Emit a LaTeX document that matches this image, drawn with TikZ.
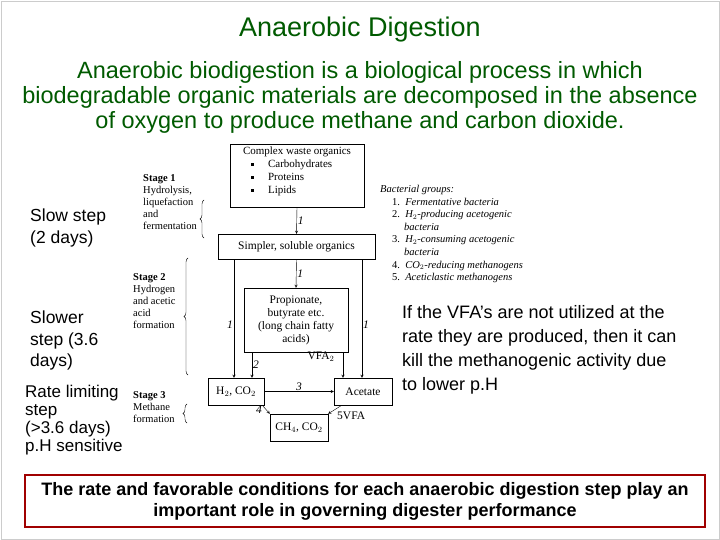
\documentclass[tikz,border=0pt]{standalone}
\usepackage{fontspec}
\setmainfont{Liberation Sans}
\newfontfamily\serf{Liberation Serif}
\usetikzlibrary{decorations.pathreplacing}
\definecolor{tgreen}{RGB}{0,90,0}
\definecolor{dred}{RGB}{160,0,0}
\begin{document}
\begin{tikzpicture}[x=1pt,y=-1pt,
  bx/.style={draw,thin,inner sep=0pt,font=\serf\fontsize{11.5}{13}\selectfont,align=center},
  ar/.style={->,>=stealth,thin},
  lab/.style={font=\serf\itshape\fontsize{11.5}{13}\selectfont,inner sep=1pt},
  side/.style={anchor=north west,align=left,font=\fontsize{17.5}{21.5}\selectfont,inner sep=0pt},
  stg/.style={anchor=north west,align=left,font=\serf\fontsize{10.5}{12}\selectfont,inner sep=0pt},
  br/.style={decorate,decoration={brace,amplitude=4pt},thin}]
\useasboundingbox (0,0) rectangle (720,540);
\draw[gray!40] (1,1) rectangle (719,539);
\node[text=tgreen,font=\fontsize{27}{30}\selectfont] (title) at (360,30) {Anaerobic Digestion};
\node[text=tgreen,font=\fontsize{23.5}{25}\selectfont,align=center] (sub) at (360,97)
 {Anaerobic biodigestion is a biological process in which\\ biodegradable organic materials are decomposed in the absence\\ of oxygen to produce methane and carbon dioxide.};
% boxes
\node[bx,minimum width=134,minimum height=63] (cw) at (297,175.5) {};
\node[anchor=north,font=\serf\fontsize{11}{13}\selectfont,align=left,inner sep=0pt] (cwt) at (297,147)
 {Complex waste organics\\ \hspace*{8pt}\rule[2pt]{3pt}{3pt}\hspace{14pt}Carbohydrates\\ \hspace*{8pt}\rule[2pt]{3pt}{3pt}\hspace{14pt}Proteins\\ \hspace*{8pt}\rule[2pt]{3pt}{3pt}\hspace{14pt}Lipids};
\node[bx,minimum width=157,minimum height=25] (ss) at (296.5,246.5) {Simpler, soluble organics};
\node[bx,minimum width=104,minimum height=64] (pr) at (296,320) {Propionate,\\butyrate etc.\\(long chain fatty\\acids)};
\node[bx,minimum width=56,minimum height=27] (h2) at (236,391.5) {H$_2$, CO$_2$};
\node[bx,minimum width=58,minimum height=27] (ac) at (363,391.5) {Acetate};
\node[bx,minimum width=58,minimum height=27] (ch) at (299,427.5) {CH$_4$, CO$_2$};
% arrows
\draw[ar] (cw.south) -- (ss.north) node[lab,midway,right] {1};
\draw[ar] (ss.south) -- (pr.north) node[lab,midway,right] {1};
\draw[ar] (ss.south west -| 234,0) -- (h2.north -| 234,0) node[lab,pos=0.55,left] {1};
\draw[ar] (ss.south west -| 362,0) -- (ac.north -| 362,0) node[lab,pos=0.55,right] {1};
\draw[ar] (pr.south west -| 252,0) -- (h2.north -| 252,0) node[lab,midway,right] {2};
\draw[ar] (pr.south west -| 343,0) -- (ac.north -| 343,0);
\node[font=\serf\fontsize{11.5}{13}\selectfont,inner sep=0pt] (vfa) at (321,357) {VFA$_2$};
\draw[ar] (h2.east) -- (ac.west) node[lab,midway,above] {3};
\draw[ar] (h2.south east) ++(-2,0) coordinate (a4) -- (ch.north west) node[lab,pos=0.5,left=3pt] {4};
\draw[ar] (ac.south west) ++(8,0) coordinate (a5) -- (ch.north east);
\node[font=\serf\fontsize{11.5}{13}\selectfont,inner sep=0pt,anchor=west] (fv) at (337,416) {5VFA};
% stages
\node[stg] (s1) at (143,174) {\textbf{Stage 1}\\Hydrolysis,\\liquefaction\\and\\fermentation};
\draw[br] (204,238) -- (204,200);
\node[stg] (s2) at (133,273) {\textbf{Stage 2}\\Hydrogen\\and acetic\\acid\\formation};
\draw[br] (188,375) -- (188,258);
\node[stg] (s3) at (133,391) {\textbf{Stage 3}\\Methane\\formation};
\draw[br] (187,423) -- (187,404);
% bacterial groups
\node[anchor=north west,align=left,inner sep=0pt,font=\serf\itshape\fontsize{10.5}{12.6}\selectfont] (bg) at (380,185)
 {Bacterial groups:\\
 \hspace*{12pt}\upshape1.\ \ \itshape Fermentative bacteria\\
 \hspace*{12pt}\upshape2.\ \ \itshape H$_2$-producing acetogenic\\ \hspace*{24pt}bacteria\\
 \hspace*{12pt}\upshape3.\ \ \itshape H$_2$-consuming acetogenic\\ \hspace*{24pt}bacteria\\
 \hspace*{12pt}\upshape4.\ \ \itshape CO$_2$-reducing methanogens\\
 \hspace*{12pt}\upshape5.\ \ \itshape Aceticlastic methanogens};
% side texts
\node[side] (l1) at (30,209) {Slow step\\(2 days)};
\node[side] (l2) at (30,311) {Slower\\step (3.6\\days)};
\node[side,font=\fontsize{17}{18}\selectfont] (l3) at (25,385) {Rate limiting\\step\\(>3.6 days)\\p.H sensitive};
\node[side,font=\fontsize{18}{24}\selectfont] (r1) at (402,305) {If the VFA’s are not utilized at the\\rate they are produced, then it can\\kill the methanogenic activity due\\to lower p.H};
\node[draw=dred,line width=2pt,minimum width=680,minimum height=52,font=\bfseries\fontsize{18}{21}\selectfont,align=center] (bot) at (365,501)
 {The rate and favorable conditions for each anaerobic digestion step play an\\important role in governing digester performance};
\end{tikzpicture}
\end{document}
